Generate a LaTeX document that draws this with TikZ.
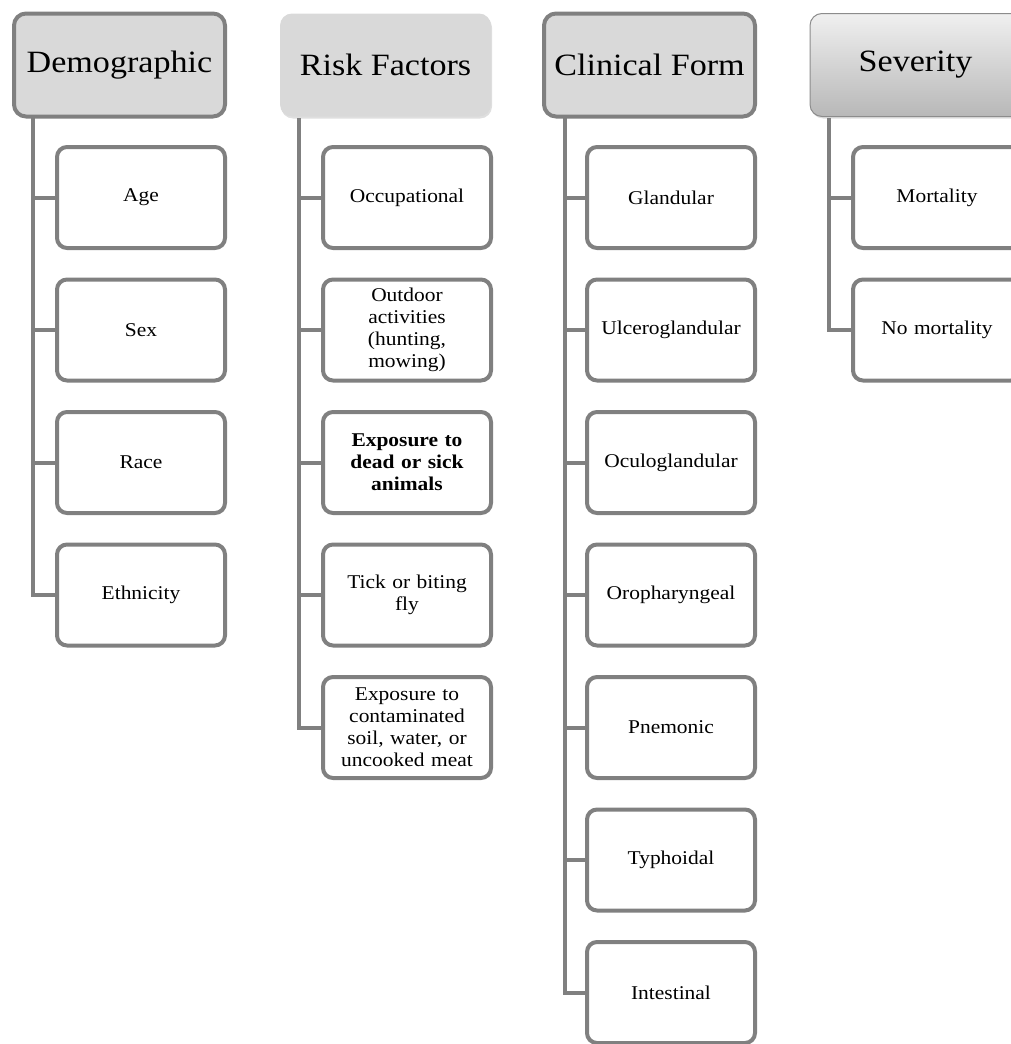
\documentclass[tikz,border=0pt]{standalone}
\usepackage{fontspec}
\setmainfont{Liberation Serif}[FakeStretch=1.1]
\usetikzlibrary{shadows}

\definecolor{linegray}{HTML}{808080}
\definecolor{headfill}{HTML}{D9D9D9}

\begin{document}
\begin{tikzpicture}[x=1pt, y=-1pt,
  head/.style={rectangle, rounded corners=12pt, minimum width=211pt, minimum height=103pt, inner sep=0pt, font=\fontsize{31}{36}\selectfont},
  boxhead/.style={head, draw=linegray, line width=4pt, fill=headfill},
  item/.style={rectangle, rounded corners=10pt, draw=linegray, line width=4pt, fill=white, minimum width=168pt, minimum height=101pt, text width=160pt, align=center, inner sep=0pt, font=\fontsize{19.5}{22}\selectfont},
  link/.style={draw=linegray, line width=4pt}]
\useasboundingbox (0,0) rectangle (1011,1044);
\clip (0,0) rectangle (1011,1044);

\node[boxhead] (demo) at (119.5, 65) {Demographic};
\node[head, fill=headfill, drop shadow={shadow xshift=1pt, shadow yshift=-2pt, opacity=0.25}] (risk) at (385.5, 65) {Risk Factors};
\node[boxhead] (clin) at (649.5, 65) {Clinical Form};
\node[head, minimum width=225pt, draw=black!45, line width=1pt, top color=black!6, bottom color=black!28, drop shadow={shadow xshift=1pt, shadow yshift=-2pt, opacity=0.25}] (sev) at (922.5, 65) {Severity\hspace*{14pt}};

\coordinate (demotop) at (33, 118);
\coordinate (risktop) at (299, 118);
\coordinate (clintop) at (565, 118);
\coordinate (sevtop) at (829, 118);

\node[item] (age) at (141, 197.5) {Age};
\node[item] (sex) at (141, 330) {Sex};
\node[item] (race) at (141, 462.5) {Race};
\node[item] (ethn) at (141, 595) {Ethnicity};

\node[item] (occ) at (407, 197.5) {Occupational};
\node[item] (outd) at (407, 330) {Outdoor\\activities\\(hunting,\\mowing)};
\node[item, font=\fontsize{19.5}{22}\selectfont\bfseries] (dead) at (407, 462.5) {Exposure to\\dead or sick\\animals};
\node[item] (tick) at (407, 595) {Tick or biting\\fly};
\node[item] (soil) at (407, 727.5) {Exposure to\\contaminated\\soil, water, or\\uncooked meat};

\node[item] (glan) at (671, 197.5) {Glandular};
\node[item] (ulc) at (671, 330) {Ulceroglandular};
\node[item] (ocul) at (671, 462.5) {Oculoglandular};
\node[item] (oro) at (671, 595) {Oropharyngeal};
\node[item] (pne) at (671, 727.5) {Pnemonic};
\node[item] (typh) at (671, 860) {Typhoidal};
\node[item] (intes) at (671, 992.5) {Intestinal};

\node[item] (mort) at (937, 197.5) {Mortality};
\node[item] (nomort) at (937, 330) {No mortality};

\draw[link] (demotop) |- (ethn.west);
\foreach \n in {age, sex, race}
  \draw[link] (\n.west) -- (\n.west -| demotop);
\draw[link] (risktop) |- (soil.west);
\foreach \n in {occ, outd, dead, tick}
  \draw[link] (\n.west) -- (\n.west -| risktop);
\draw[link] (clintop) |- (intes.west);
\foreach \n in {glan, ulc, ocul, oro, pne, typh}
  \draw[link] (\n.west) -- (\n.west -| clintop);
\draw[link] (sevtop) |- (nomort.west);
\draw[link] (mort.west) -- (mort.west -| sevtop);
\end{tikzpicture}
\end{document}
